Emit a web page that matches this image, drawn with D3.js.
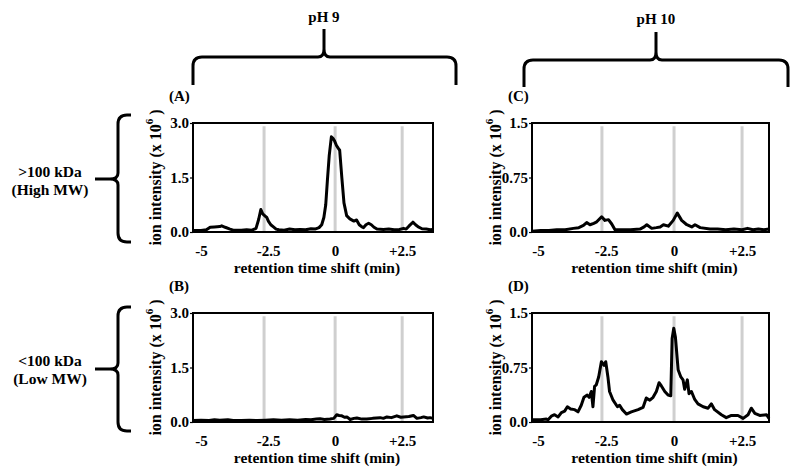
<!DOCTYPE html>
<html>
<head>
<meta charset="utf-8">
<script src="https://cdn.jsdelivr.net/npm/d3@7"></script>
<style>
  body { margin: 0; background: #fff; }
  svg { display: block; }
  text { font-family: "Liberation Serif", "Times New Roman", serif; font-weight: bold; fill: #000; }
</style>
</head>
<body>
<svg id="chart" width="800" height="474"></svg>
<script>
// ---------------- DATA ----------------
const xTickValues = [-5, -2.5, 0, 2.5];
const xTickLabels = ["-5", "-2.5", "0", "+2.5"];
const markerTimes = [-2.65, 0, 2.5];

const yTicksPH9 = [0, 1.5, 3.0];
const yTickLabelsPH9 = ["0.0", "1.5", "3.0"];
const yTicksPH10 = [0, 0.75, 1.5];
const yTickLabelsPH10 = ["0.0", "0.75", "1.5"];

const columnTitles = ["pH 9", "pH 10"];
const rowTitles = [[">100 kDa", "(High MW)"], ["<100 kDa", "(Low MW)"]];
const panelLetters = ["(A)", "(B)", "(C)", "(D)"];

// (A) pH 9, >100 kDa
const timeA = [-5.3,-5.0,-4.8,-4.66,-4.5,-4.3,-4.23,-4.1,-3.92,-3.8,-3.5,-3.3,-3.1,-2.95,-2.85,-2.77,-2.7,-2.61,-2.55,-2.49,-2.4,-2.3,-2.2,-2.1,-1.9,-1.7,-1.5,-1.3,-1.1,-0.9,-0.75,-0.6,-0.5,-0.42,-0.35,-0.29,-0.22,-0.14,-0.08,-0.03,0.05,0.12,0.17,0.25,0.33,0.43,0.55,0.7,0.8,0.9,1.0,1.06,1.15,1.25,1.35,1.45,1.56,1.8,2.0,2.2,2.4,2.55,2.65,2.75,2.9,3.0,3.1,3.24,3.4,3.54,3.65];
const valueA = [0.04,0.04,0.06,0.13,0.14,0.15,0.17,0.13,0.08,0.05,0.05,0.06,0.05,0.1,0.35,0.62,0.5,0.44,0.4,0.3,0.2,0.14,0.08,0.06,0.05,0.08,0.06,0.07,0.06,0.09,0.08,0.12,0.2,0.4,0.75,1.4,2.1,2.62,2.58,2.52,2.38,2.3,2.25,1.5,0.8,0.45,0.36,0.3,0.33,0.2,0.14,0.12,0.2,0.24,0.2,0.13,0.08,0.07,0.08,0.06,0.07,0.1,0.08,0.16,0.27,0.2,0.14,0.09,0.08,0.06,0.07];

// (B) pH 9, <100 kDa
const timeB = [-5.3,-5.0,-4.7,-4.5,-4.3,-4.0,-3.8,-3.5,-3.2,-2.9,-2.6,-2.3,-2.0,-1.7,-1.4,-1.1,-0.9,-0.7,-0.56,-0.4,-0.19,-0.05,0.06,0.15,0.25,0.35,0.44,0.56,0.7,0.81,1.0,1.18,1.4,1.68,1.8,1.93,2.1,2.3,2.45,2.55,2.75,2.92,3.05,3.2,3.3,3.45,3.54,3.65];
const valueB = [0.04,0.05,0.04,0.06,0.05,0.06,0.04,0.04,0.05,0.04,0.05,0.06,0.05,0.06,0.05,0.07,0.06,0.08,0.09,0.07,0.08,0.1,0.2,0.18,0.17,0.13,0.14,0.07,0.1,0.11,0.08,0.08,0.1,0.12,0.1,0.14,0.12,0.17,0.13,0.14,0.15,0.18,0.1,0.12,0.14,0.11,0.12,0.1];

// (C) pH 10, >100 kDa
const timeC = [-5.22,-4.9,-4.6,-4.31,-4.0,-3.7,-3.5,-3.33,-3.21,-3.09,-2.95,-2.84,-2.66,-2.54,-2.41,-2.29,-2.17,-1.9,-1.6,-1.25,-1.1,-1.0,-0.82,-0.65,-0.51,-0.39,-0.21,-0.03,0.12,0.28,0.47,0.65,0.77,0.96,1.32,1.6,1.9,2.2,2.5,2.7,2.9,3.1,3.3,3.49];
const valueC = [0.01,0.02,0.02,0.03,0.03,0.05,0.06,0.09,0.13,0.1,0.12,0.14,0.21,0.16,0.17,0.11,0.03,0.03,0.03,0.04,0.07,0.1,0.05,0.06,0.07,0.1,0.08,0.16,0.26,0.16,0.1,0.07,0.1,0.06,0.04,0.04,0.03,0.04,0.03,0.05,0.03,0.04,0.03,0.04];

// (D) pH 10, <100 kDa
const timeD = [-5.22,-4.9,-4.69,-4.63,-4.51,-4.39,-4.26,-4.14,-4.02,-3.92,-3.8,-3.65,-3.53,-3.41,-3.31,-3.19,-3.12,-3.04,-2.98,-2.92,-2.86,-2.77,-2.67,-2.57,-2.51,-2.43,-2.37,-2.24,-2.08,-2.0,-1.9,-1.75,-1.57,-1.32,-1.14,-1.02,-0.89,-0.77,-0.65,-0.55,-0.47,-0.34,-0.22,-0.12,-0.07,-0.01,0.05,0.15,0.25,0.33,0.39,0.49,0.55,0.64,0.76,0.88,1.07,1.25,1.37,1.49,1.74,1.92,2.11,2.35,2.54,2.72,2.84,2.97,3.15,3.4,3.49];
const valueD = [0.03,0.03,0.04,0.03,0.08,0.1,0.07,0.13,0.15,0.21,0.18,0.17,0.14,0.23,0.34,0.37,0.34,0.42,0.21,0.49,0.51,0.62,0.83,0.78,0.83,0.62,0.42,0.3,0.21,0.23,0.17,0.11,0.14,0.17,0.2,0.33,0.3,0.34,0.42,0.54,0.5,0.42,0.37,0.36,1.15,1.29,1.17,0.72,0.62,0.58,0.45,0.58,0.39,0.42,0.31,0.25,0.21,0.19,0.25,0.17,0.1,0.06,0.09,0.09,0.05,0.1,0.19,0.12,0.09,0.1,0.05];

// ---------------- LAYOUT ----------------
const svg = d3.select("#chart");

const panels = [
  { letter: panelLetters[0], t: timeA, v: valueA, left: 193, right: 433, top: 123, bottom: 232, xDom: [-5.3, 3.65], yMax: 3.0, yTicks: yTicksPH9, yLabels: yTickLabelsPH9, titleX: 155 },
  { letter: panelLetters[1], t: timeB, v: valueB, left: 193, right: 433, top: 313, bottom: 422, xDom: [-5.3, 3.65], yMax: 3.0, yTicks: yTicksPH9, yLabels: yTickLabelsPH9, titleX: 155 },
  { letter: panelLetters[2], t: timeC, v: valueC, left: 532, right: 769, top: 123, bottom: 232, xDom: [-5.22, 3.49], yMax: 1.5, yTicks: yTicksPH10, yLabels: yTickLabelsPH10, titleX: 495 },
  { letter: panelLetters[3], t: timeD, v: valueD, left: 532, right: 769, top: 313, bottom: 422, xDom: [-5.22, 3.49], yMax: 1.5, yTicks: yTicksPH10, yLabels: yTickLabelsPH10, titleX: 495 }
];

panels.forEach(p => {
  const x = d3.scaleLinear().domain(p.xDom).range([p.left, p.right]);
  const y = d3.scaleLinear().domain([0, p.yMax]).range([p.bottom, p.top]);
  const g = svg.append("g");

  // grey marker lines
  g.selectAll("line.marker").data(markerTimes).join("line")
    .attr("x1", d => x(d)).attr("x2", d => x(d))
    .attr("y1", y(p.yMax * 0.97)).attr("y2", p.bottom)
    .attr("stroke", "#cfcfcf").attr("stroke-width", 3);

  // data line
  const pts = p.t.map((t, i) => [t, p.v[i]]);
  g.append("path").datum(pts)
    .attr("fill", "none").attr("stroke", "#000").attr("stroke-width", 3)
    .attr("stroke-linejoin", "round")
    .attr("d", d3.line().x(d => x(d[0])).y(d => y(d[1])));

  // frame
  g.append("rect").attr("x", p.left).attr("y", p.top)
    .attr("width", p.right - p.left).attr("height", p.bottom - p.top)
    .attr("fill", "none").attr("stroke", "#000").attr("stroke-width", 2);

  // y axis
  const yAxis = d3.axisLeft(y).tickValues(p.yTicks)
    .tickFormat((d, i) => p.yLabels[i]).tickSize(3).tickPadding(1);
  const ya = g.append("g").attr("transform", `translate(${p.left},0)`).call(yAxis);
  ya.select(".domain").remove();
  ya.selectAll(".tick line").attr("stroke", "#000").attr("stroke-width", 1.2);
  ya.selectAll(".tick text").attr("font-size", 15).attr("font-family", "Liberation Serif").attr("font-weight", "bold").attr("fill", "#000");

  // x axis (labels only)
  const xAxis = d3.axisBottom(x).tickValues(xTickValues)
    .tickFormat((d, i) => xTickLabels[i]).tickSize(0).tickPadding(13);
  const xa = g.append("g").attr("transform", `translate(0,${p.bottom})`).call(xAxis);
  xa.select(".domain").remove();
  xa.selectAll(".tick text").attr("font-size", 15).attr("font-family", "Liberation Serif").attr("font-weight", "bold").attr("fill", "#000");

  // x axis title
  g.append("text").attr("x", (p.left + p.right) / 2 + 4).attr("y", p.bottom + 41)
    .attr("text-anchor", "middle").attr("font-size", 15.5)
    .text("retention time shift (min)");

  // y axis title
  const yt = g.append("text")
    .attr("transform", `translate(${p.titleX},${(p.top + p.bottom) / 2}) rotate(-90)`)
    .attr("text-anchor", "middle").attr("dominant-baseline", "central")
    .attr("font-size", 16);
  yt.append("tspan").text("ion intensity (x 10");
  yt.append("tspan").attr("font-size", 11).attr("dy", -6).text("6");
  yt.append("tspan").attr("dy", 6).text(" )");

  // panel letter
  g.append("text").attr("x", p.left - 24).attr("y", p.top - 22)
    .attr("font-size", 15).text(p.letter);
});

// ---------------- BRACES ----------------
function hBrace(x1, x2, xm, yH, yEnd, yTip) {
  const r = 9, c = 6;
  return `M${x1},${yEnd} L${x1},${yH + r} Q${x1},${yH} ${x1 + r},${yH} L${xm - c},${yH} Q${xm},${yH} ${xm},${yH - c - 2} L${xm},${yTip}` +
         ` M${xm},${yH - c - 2} Q${xm},${yH} ${xm + c},${yH} L${x2 - r},${yH} Q${x2},${yH} ${x2},${yH + r} L${x2},${yEnd}`;
}
function vBrace(xV, xEnd, xTip, y1, y2, ym) {
  const r = 9, c = 6;
  return `M${xEnd},${y1} L${xV + r},${y1} Q${xV},${y1} ${xV},${y1 + r} L${xV},${ym - c} Q${xV},${ym} ${xV - c - 2},${ym} L${xTip},${ym}` +
         ` M${xV - c - 2},${ym} Q${xV},${ym} ${xV},${ym + c} L${xV},${y2 - r} Q${xV},${y2} ${xV + r},${y2} L${xEnd},${y2}`;
}

const braceStyle = sel => sel.attr("fill", "none").attr("stroke", "#000").attr("stroke-width", 3).attr("stroke-linecap", "butt");

svg.append("path").attr("d", hBrace(193, 456, 324, 57, 85, 29)).call(braceStyle);
svg.append("path").attr("d", hBrace(524, 788, 656, 60, 87, 32)).call(braceStyle);
svg.append("path").attr("d", vBrace(118, 131, 95, 115, 242, 179)).call(braceStyle);
svg.append("path").attr("d", vBrace(118, 131, 95, 307, 431, 369)).call(braceStyle);

// column titles
svg.append("text").attr("x", 324).attr("y", 22).attr("text-anchor", "middle").attr("font-size", 15).text(columnTitles[0]);
svg.append("text").attr("x", 656).attr("y", 24).attr("text-anchor", "middle").attr("font-size", 15).text(columnTitles[1]);

// row titles
[[177, 195], [366, 384]].forEach((ys, i) => {
  rowTitles[i].forEach((txt, j) => {
    svg.append("text").attr("x", 50).attr("y", ys[j]).attr("text-anchor", "middle")
      .attr("font-size", 15.5).text(txt);
  });
});
</script>
</body>
</html>
